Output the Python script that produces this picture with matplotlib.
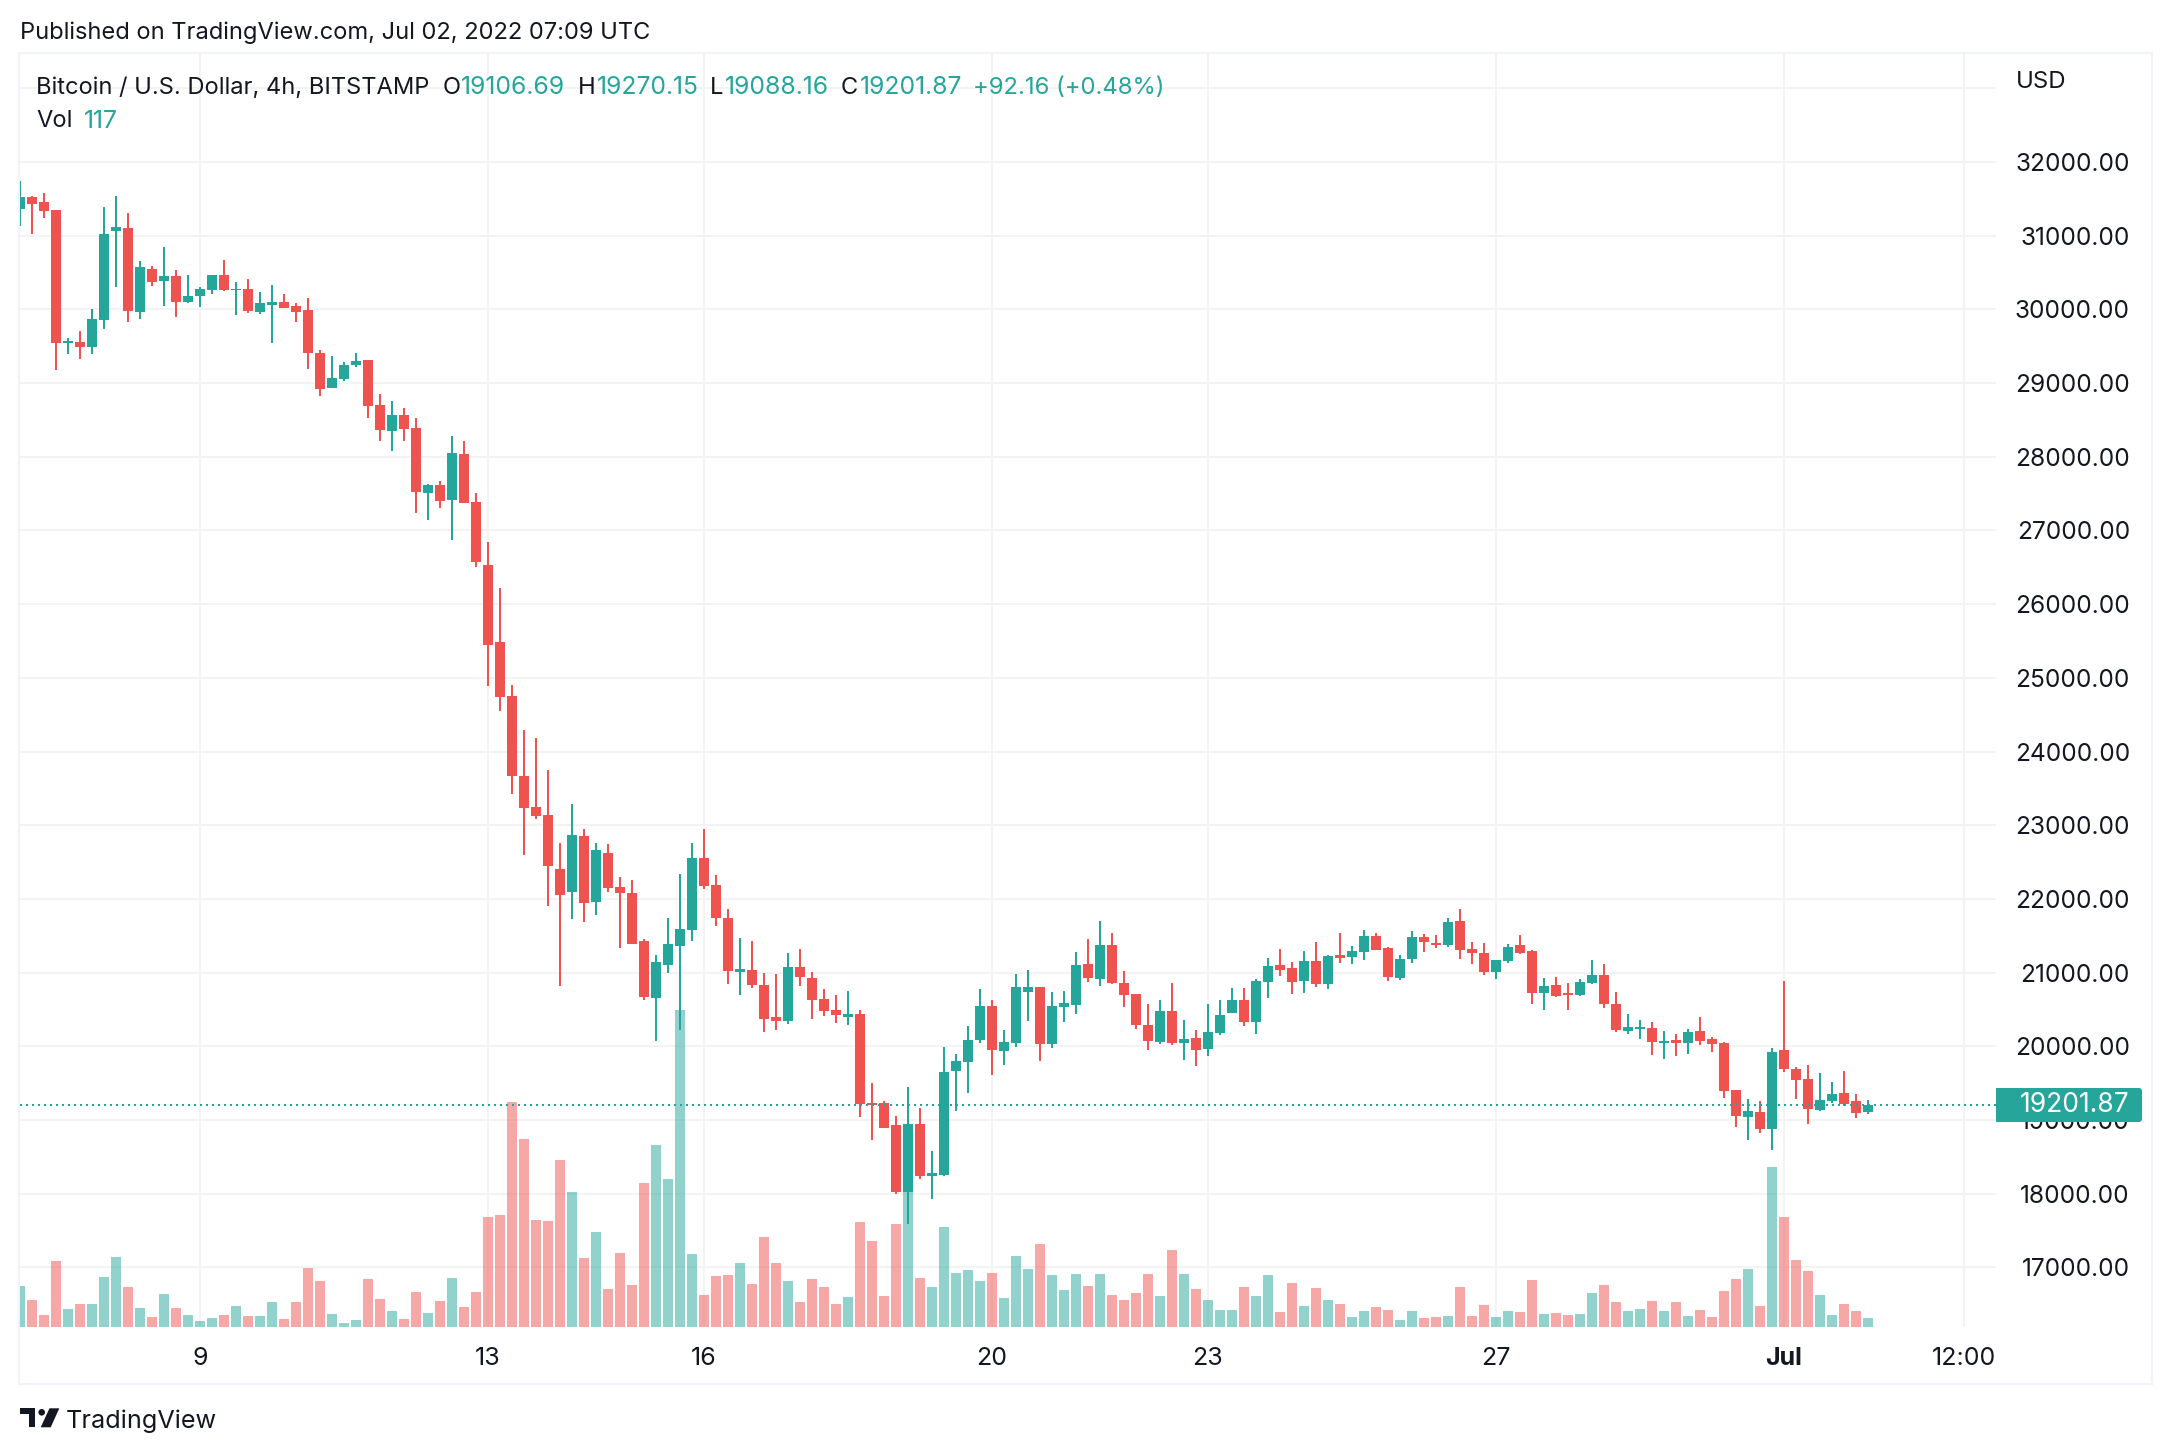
import matplotlib
matplotlib.use("Agg")
import numpy as np
import matplotlib.pyplot as plt
from matplotlib.patches import Rectangle, FancyBboxPatch, Polygon, Circle
from matplotlib.transforms import IdentityTransform

plt.rcParams['font.family'] = ['Inter', 'DejaVu Sans']

W, H, DPI = 2172, 1454, 200
UP = '#26A69A'
DOWN = '#EF5350'
INK = '#131722'
GRID = '#F3F3F3'
FRAME = '#F0F3FA'

# 4h candles, one row per field
opens = [31361,31524,31456,31348,29544,29558,29490,29856,31063,31104,29964,30548,30385,30453,30100,30181,30263,30466,30263,30276,
         29964,30059,30100,30046,29992,29409,28934,29056,29246,29314,28703,28351,28568,28392,27510,27619,27415,28039,27388,26531,
         25488,24756,23671,23251,23142,22410,22099,22856,21964,22628,22166,22083,21434,20661,21107,21367,21580,22555,22192,21746,
         21014,21040,20838,20396,20350,21081,20931,20645,20495,20398,20438,19230,19230,18932,18022,18945,18239,18253,19665,19787,
         20086,20547,19936,20045,20737,20805,20031,20533,20561,21117,20914,21375,20859,20710,20289,20058,20479,20045,20113,19963,
         20181,20452,20629,20330,20873,21104,21063,20886,21158,20846,21239,21212,21280,21497,21334,20927,21185,21484,21402,21375,
         21701,21321,21267,21009,21158,21375,21294,20724,20832,20724,20696,20859,20968,20574,20208,20235,20248,20045,20086,20045,
         20208,20099,20045,19407,19040,19108,18877,19950,19692,19561,19140,19262,19371,19262,19106.69]
highs = [31741,31537,31578,31348,29612,29707,30005,31388,31537,31307,30656,30588,30846,30534,30466,30303,30466,30670,30371,30412,
         30236,30331,30209,30087,30154,29449,29368,29286,29409,29314,28853,28758,28663,28527,27632,27673,28283,28215,27510,26842,
         26220,24907,24294,24185,23749,22763,23292,22950,22763,22747,22301,22260,21460,21242,21746,22343,22763,22950,22327,21865,
         21471,21434,20998,20986,21268,21325,21014,20780,20697,20751,20493,19502,19257,19054,19448,19162,18579,19990,19895,20276,
         20778,20629,20221,20981,21036,20805,20737,20751,21280,21457,21701,21538,21022,20710,20574,20629,20859,20357,20221,20574,
         20629,20791,20791,20914,21199,21321,21144,21294,21416,21239,21538,21362,21579,21538,21348,21239,21565,21524,21511,21742,
         21864,21416,21402,21171,21389,21511,21307,20927,20941,20859,20914,21171,21117,20737,20438,20357,20330,20208,20167,20235,
         20398,20126,20058,19407,19285,19257,19977,20886,19719,19751,19642,19520,19669,19357,19270.15]
lows = [31131,31022,31239,29178,29395,29327,29395,29734,30303,29829,29870,30317,30046,29897,30087,30032,30209,30249,29924,29951,
        29937,29544,30019,29829,29192,28825,28934,29029,29219,28527,28215,28080,28215,27239,27144,27307,26873,27375,26507,24891,
        24554,23427,22597,23085,21907,20822,21730,21689,21787,22099,21336,21393,20630,20069,20998,20223,21434,22135,21637,20848,
        20697,20796,20196,20223,20308,20822,20376,20417,20319,20289,19040,18728,18891,17995,17588,18199,17927,18239,19122,19366,
        20045,19610,19746,19990,20343,19800,19977,20330,20438,20873,20819,20846,20533,20235,19950,20031,20018,19814,19733,19868,
        20153,20452,20276,20167,20656,20954,20710,20724,20805,20778,21131,21117,21171,21307,20886,20900,21131,21280,21334,21348,
        21185,21117,20968,20914,21131,21253,20574,20493,20669,20493,20683,20846,20520,20194,20167,20099,19882,19828,19868,19895,
        20018,19923,19298,18904,18728,18823,18592,19651,19285,18950,19126,19235,19194,19031,19088.16]
closes = [31524,31429,31334,29544,29571,29490,29870,31022,31117,29978,30575,30371,30453,30100,30181,30276,30466,30263,30281,29978,
          30087,30100,30019,29964,29409,28920,29069,29246,29300,28690,28364,28568,28378,27524,27619,27402,28053,27375,26574,25451,
          24740,23671,23235,23126,22441,22057,22872,21948,22664,22151,22083,21393,20671,21149,21393,21595,22555,22176,21746,21024,
          21050,20838,20376,20350,21081,20946,20630,20485,20427,20438,19217,19203,18891,18022,18945,18239,18280,19651,19800,20086,
          20547,19950,20058,20805,20805,20031,20547,20588,21104,20927,21375,20859,20696,20289,20072,20479,20045,20099,19950,20194,
          20425,20629,20330,20886,21090,21036,20873,21158,20846,21226,21199,21294,21497,21307,20941,21185,21484,21416,21375,21687,
          21307,21267,21009,21171,21348,21267,20724,20819,20683,20696,20873,20968,20574,20221,20262,20262,20058,20072,20045,20194,
          20072,20031,19393,19054,19122,18877,19923,19692,19542,19154,19276,19357,19221,19099,19201.87]
volumes = [533,351,156,858,234,299,299,650,910,520,247,130,429,247,156,78,117,156,273,143,
           143,325,104,325,767,598,169,52,91,624,364,208,104,455,182,338,637,260,455,1430,
           1456,2925,2444,1391,1378,2171,1755,897,1235,494,962,546,1872,2366,1924,4121,949,416,663,676,
           832,559,1170,832,598,325,624,520,299,390,1365,1118,403,1339,1824,637,520,1300,702,741,
           598,702,377,923,754,1079,676,481,689,533,689,416,351,442,689,403,1001,689,494,351,
           221,221,520,403,676,195,572,273,507,351,299,130,208,260,221,91,208,117,130,143,
           520,143,286,130,208,195,611,169,182,156,169,442,546,325,208,234,338,208,325,143,
           221,130,468,624,754,273,2080,1430,871,728,416,156,299,208,117]

price_grid = [17000,18000,19000,20000,21000,22000,23000,24000,25000,26000,27000,28000,29000,30000,31000,32000,33000]
price_labels = ['17000.00','18000.00','19000.00','20000.00','21000.00','22000.00','23000.00','24000.00','25000.00',
                '26000.00','27000.00','28000.00','29000.00','30000.00','31000.00','32000.00','']
time_ticks = [15, 39, 57, 81, 99, 123, 147, 162]
time_labels = ['9', '13', '16', '20', '23', '27', 'Jul', '12:00']
last_price = 19201.87

PLOT_L, PLOT_R, PLOT_T, PLOT_B = 20, 1996, 54, 1327
PRICE_MIN, PRICE_MAX = 16192, 33465
X_MAX = 164.67
VOL_MAX = 16549


def fx(x):
    return x / W


def fy(y):
    return 1 - y / H


def label(x, y, s, color=INK, size=8.53, ha='left', **kw):
    return fig.text(fx(x), fy(y), s, color=color, fontsize=size, ha=ha, va='center', **kw)


fig = plt.figure(figsize=(W / DPI, H / DPI), dpi=DPI, facecolor='white')

# frame round the whole chart
ax_frame = fig.add_axes([fx(19), fy(1384), fx(2152 - 19), (1384 - 53) / H])
ax_frame.set_xticks([])
ax_frame.set_yticks([])
for s in ax_frame.spines.values():
    s.set_color(FRAME)
    s.set_linewidth(0.75)

rect = [fx(PLOT_L), fy(PLOT_B), fx(PLOT_R - PLOT_L), (PLOT_B - PLOT_T) / H]
ax = fig.add_axes(rect, facecolor='none', zorder=1)
ax_vol = fig.add_axes(rect, facecolor='none', zorder=2)
ax_price = fig.add_axes(rect, facecolor='none', zorder=3)

x = np.arange(len(closes))
opens = np.array(opens)
closes = np.array(closes)
highs = np.array(highs)
lows = np.array(lows)
colors = [UP if c >= o else DOWN for o, c in zip(opens, closes)]

# grid and axis labels
ax.set_xlim(0, X_MAX)
ax.set_ylim(PRICE_MIN, PRICE_MAX)
ax.set_yticks(price_grid)
ax.set_yticklabels(price_labels, ha='right')
ax.set_xticks(time_ticks)
ax.set_xticklabels(time_labels)
ax.yaxis.tick_right()
ax.grid(True, color=GRID, linewidth=0.72)
ax.tick_params(axis='y', length=0, pad=48.2, labelsize=8.8, labelcolor=INK)
ax.tick_params(axis='x', length=0, pad=7.2, labelsize=9.0, labelcolor=INK)
ax.get_xticklabels()[6].set_fontweight('bold')
for s in ax.spines.values():
    s.set_visible(False)

# volume pane
ax_vol.bar(x, volumes, width=10 / 12, color=colors, alpha=0.5, linewidth=0, antialiased=False)
ax_vol.set_xlim(0, X_MAX)
ax_vol.set_ylim(0, VOL_MAX)
ax_vol.axis('off')

# candles
ax_price.hlines(last_price, 0, X_MAX, color=UP, linewidth=0.72, linestyles=(0, (1, 2)))
ax_price.bar(x, highs - lows, bottom=lows, width=2 / 12, color=colors, linewidth=0, antialiased=False)
ax_price.bar(x, np.abs(closes - opens), bottom=np.minimum(opens, closes), width=10 / 12,
             color=colors, linewidth=0, antialiased=False)
ax_price.set_xlim(0, X_MAX)
ax_price.set_ylim(PRICE_MIN, PRICE_MAX)
ax_price.axis('off')

# last price badge
px = IdentityTransform()
fig.add_artist(FancyBboxPatch((2000, H - 1119), 139, 28, boxstyle='round,pad=3,rounding_size=3',
                              facecolor=UP, edgecolor='none', transform=px, zorder=5))
fig.add_artist(Rectangle((1996, H - 1122), 20, 34, facecolor=UP, edgecolor='none', transform=px, zorder=5))
label(2129, 1105, '19201.87', color='white', ha='right', size=9.5).set_zorder(6)

# header texts
label(20, 33, 'Published on TradingView.com, Jul 02, 2022 07:09 UTC')
label(2016, 82, 'USD', size=8.6)
label(36, 88, 'Bitcoin / U.S. Dollar, 4h, BITSTAMP')
label(443, 88, 'O')
label(461, 88, '19106.69', color=UP, size=8.9)
label(578, 88, 'H')
label(597, 88, '19270.15', color=UP, size=8.9)
label(710, 88, 'L')
label(725, 88, '19088.16', color=UP, size=8.9)
label(841, 88, 'C')
label(860, 88, '19201.87', color=UP, size=8.9)
label(973, 88, '+92.16 (+0.48%)', color=UP, size=8.6)
label(36, 121, 'Vol')
label(84, 121, '117', color=UP, size=8.9)

# logo
for pts in ([(20, 1408.3), (35, 1408.3), (35, 1427.3), (29.3, 1427.3), (29.3, 1414.3), (20, 1414.3)],
            [(49.5, 1408.3), (59.3, 1408.3), (50.7, 1427.3), (40.7, 1427.3)]):
    fig.add_artist(Polygon([(a, H - b) for a, b in pts], closed=True, facecolor=INK, edgecolor='none', transform=px))
fig.add_artist(Circle((41.7, H - 1412.3), 3.3, facecolor=INK, edgecolor='none', transform=px))
label(66, 1421, 'TradingView', size=9.1)

fig.savefig('out.png', dpi=DPI)
